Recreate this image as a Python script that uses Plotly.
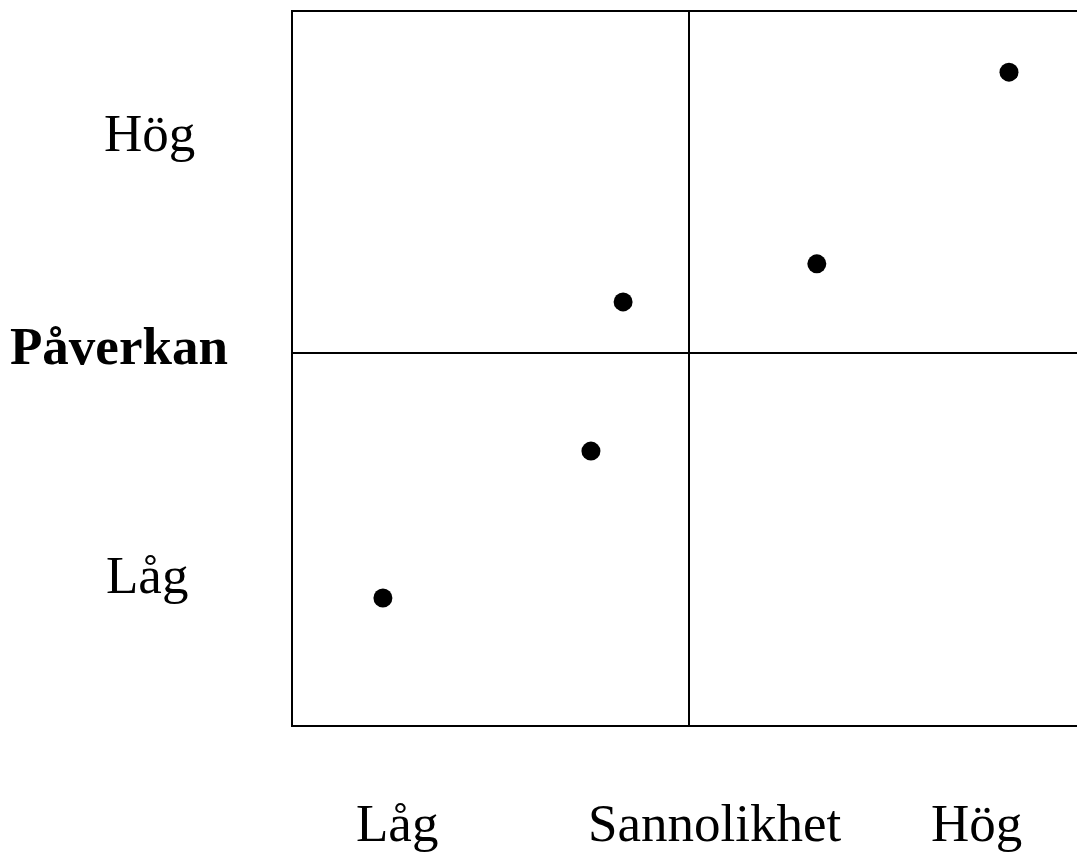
import plotly.graph_objects as go

# Data (Sannolikhet on x, Påverkan on y; matrix spans 0..2, split at 1)
prob = [0.229, 0.753, 0.834, 1.322, 1.806]
impact = [0.343, 0.737, 1.137, 1.239, 1.753]
x_labels = ["Låg", "Sannolikhet", "Hög"]
x_label_pos = [0.264, 1.063, 1.725]
y_labels = ["Hög", "Påverkan", "Låg"]
y_label_pos = [1.59, 1.02, 0.405]
y_label_x = [-0.358, -0.436, -0.365]
box_top = 1.917

FONT = "Liberation Serif, Times New Roman, serif"

fig = go.Figure()
fig.add_trace(go.Scatter(x=prob, y=impact, mode="markers",
                         marker=dict(color="black", size=19),
                         hoverinfo="skip", showlegend=False))

line = dict(color="black", width=2)
fig.add_shape(type="rect", x0=0, x1=2, y0=0, y1=box_top, line=line, layer="below")
fig.add_shape(type="line", x0=1, x1=1, y0=0, y1=box_top, line=line, layer="below")
fig.add_shape(type="line", x0=0, x1=2, y0=1, y1=1, line=line, layer="below")

for t, xp in zip(x_labels, x_label_pos):
    fig.add_annotation(x=xp, y=-0.26, text=t, showarrow=False,
                       font=dict(family=FONT, size=53, color="black"))
for t, yp, xp in zip(y_labels, y_label_pos, y_label_x):
    txt = "<b>%s</b>" % t if t == "Påverkan" else t
    fig.add_annotation(x=xp, y=yp, text=txt, showarrow=False,
                       font=dict(family=FONT, size=53, color="black"))

W, H = 1077, 853
fig.update_layout(
    width=W, height=H,
    margin=dict(l=0, r=0, t=0, b=0),
    paper_bgcolor="white", plot_bgcolor="white",
    xaxis=dict(range=[-292/397, (W-292)/397], visible=False, fixedrange=True),
    yaxis=dict(range=[-(H-726)/373, 726/373], visible=False, fixedrange=True),
)
fig.write_html("out.html",
               config={"displayModeBar": False, "staticPlot": True},
               post_script="document.body.style.margin='0';document.body.style.overflow='hidden';")
